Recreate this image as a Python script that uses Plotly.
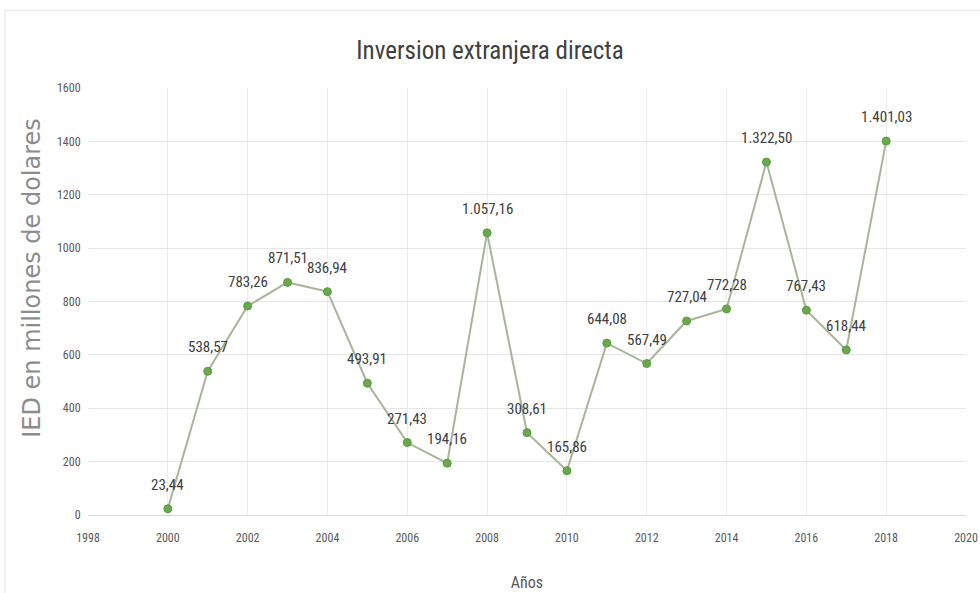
import plotly.graph_objects as go

years = [2000, 2001, 2002, 2003, 2004, 2005, 2006, 2007, 2008, 2009,
         2010, 2011, 2012, 2013, 2014, 2015, 2016, 2017, 2018]
ied = [23.44, 538.57, 783.26, 871.51, 836.94, 493.91, 271.43, 194.16, 1057.16, 308.61,
       165.86, 644.08, 567.49, 727.04, 772.28, 1322.50, 767.43, 618.44, 1401.03]
x_ticks = list(range(1998, 2021, 2))
y_ticks = list(range(0, 1601, 200))


def fmt(v):
    s = f"{v:,.2f}"
    return s.replace(",", "X").replace(".", ",").replace("X", ".")


labels = [fmt(v) for v in ied]
cond = "Liberation Sans Narrow, Roboto Condensed, Arial Narrow, sans-serif"

fig = go.Figure()
fig.add_trace(go.Scatter(
    x=years, y=ied, mode="lines+markers",
    line=dict(color="#a7b59a", width=2),
    marker=dict(color="#6aa84f", size=8, symbol="circle",
                line=dict(color="#5b9a3e", width=1)),
    hoverinfo="skip", showlegend=False, cliponaxis=False,
))

annotations = [dict(x=x, y=y, text=t, showarrow=False, yshift=24,
                    font=dict(family=cond, size=15, color="#404040"))
               for x, y, t in zip(years, ied, labels)]
annotations.append(dict(xref="paper", yref="paper", x=-0.064, y=0.555,
                        xanchor="center", yanchor="middle", textangle=-90,
                        text="IED en millones de dolares", showarrow=False,
                        font=dict(family="DejaVu Sans, sans-serif", size=24,
                                  color="#8c8c8c")))

fig.update_layout(
    width=980, height=593,
    margin=dict(l=88, r=14, t=88, b=78),
    paper_bgcolor="white", plot_bgcolor="white",
    title=dict(text="Inversion extranjera directa", x=0.5, xanchor="center",
               y=0.915, yanchor="middle",
               font=dict(family=cond, size=25, color="#404040")),
    xaxis=dict(range=[1998, 2020], tickvals=x_ticks, ticktext=[str(t) for t in x_ticks],
               automargin=False,
               showgrid=True, gridcolor="#ebebeb", zeroline=False,
               showline=False, ticks="outside", ticklen=12, tickcolor="rgba(0,0,0,0)",
               tickfont=dict(family=cond, size=12, color="#595959"),
               title=dict(text="Años", font=dict(family=cond, size=16, color="#595959"),
                          standoff=32)),
    yaxis=dict(range=[0, 1600], tickvals=y_ticks, ticktext=[str(t) for t in y_ticks],
               automargin=False,
               showgrid=True, gridcolor="#e6e6e6", zeroline=True, zerolinecolor="#d9d9d9",
               zerolinewidth=1, showline=False, ticks="outside", ticklen=4,
               tickcolor="rgba(0,0,0,0)",
               tickfont=dict(family=cond, size=12, color="#595959")),
    annotations=annotations,
    shapes=[dict(type="rect", xref="paper", yref="paper",
                 x0=-0.0946, x1=1.02, y0=-0.2, y1=1.182,
                 line=dict(color="#e3e3e3", width=1), layer="below")],
)

fig.write_html("out.html")
